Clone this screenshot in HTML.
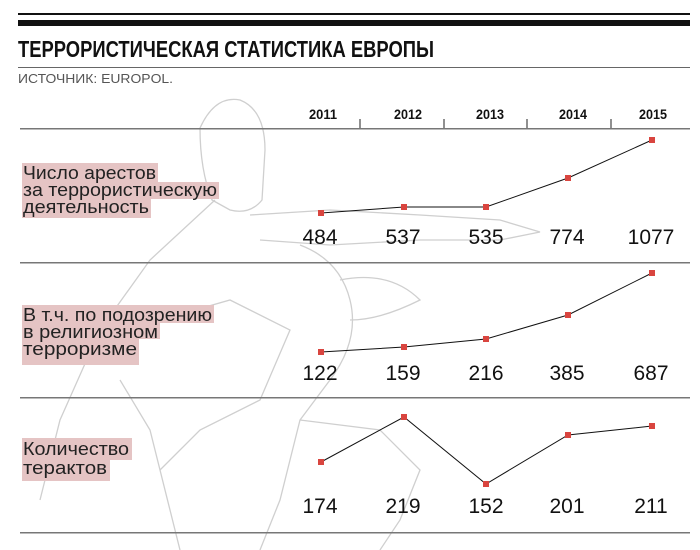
<!DOCTYPE html>
<html><head><meta charset="utf-8"><style>
body{margin:0;background:#fff}
svg{display:block}
.lab{font-family:"Liberation Sans","DejaVu Sans",sans-serif;font-size:18px;fill:#222}
.val{font-family:"Liberation Sans","DejaVu Sans",sans-serif;font-size:21px;fill:#111;text-anchor:middle}
.yr{font-family:"Liberation Sans Narrow","Liberation Sans",sans-serif;font-size:14px;font-weight:bold;fill:#111;text-anchor:middle}
</style></head><body>
<svg width="700" height="550" xmlns="http://www.w3.org/2000/svg">
<g fill="none" stroke="#cfcfcf" stroke-width="1.3">
<path d="M200 128 Q215 95 240 100 Q265 110 265 150 L262 200 Q250 215 230 210 L212 200 Q200 170 200 128 Z"/>
<path d="M215 200 L150 260 L100 330 L60 420 L40 500"/>
<path d="M250 215 L330 210 L420 215 L500 220 L540 232 L500 240 L420 240 L330 245 L260 240"/>
<path d="M300 245 Q340 260 350 300 Q360 340 330 380 L300 420 L280 500 L260 550"/>
<path d="M160 320 L230 300 L290 330 L260 400 L200 430 L160 470"/>
<path d="M120 380 L150 430 L170 510 L180 550"/>
<path d="M300 420 L380 430 L420 470 L400 520 L380 550"/>
<path d="M340 280 Q390 270 420 300 Q380 320 350 320"/>
</g>
<rect x="18" y="13" width="672" height="2" fill="#111"/>
<rect x="18" y="20" width="672" height="6" fill="#111"/>
<text x="18" y="57" font-family="Liberation Sans Narrow,Liberation Sans,sans-serif" font-weight="bold" font-size="23" fill="#111" textLength="416" lengthAdjust="spacingAndGlyphs">ТЕРРОРИСТИЧЕСКАЯ СТАТИСТИКА ЕВРОПЫ</text>
<rect x="18" y="67" width="672" height="1" fill="#666"/>
<text x="18" y="83" font-family="Liberation Sans,sans-serif" font-size="13" fill="#555" textLength="155" lengthAdjust="spacingAndGlyphs">ИСТОЧНИК: EUROPOL.</text>
<g class="yr">
<text x="323" y="119" textLength="28" lengthAdjust="spacingAndGlyphs">2011</text>
<text x="408" y="119" textLength="28" lengthAdjust="spacingAndGlyphs">2012</text>
<text x="490" y="119" textLength="28" lengthAdjust="spacingAndGlyphs">2013</text>
<text x="573" y="119" textLength="28" lengthAdjust="spacingAndGlyphs">2014</text>
<text x="653" y="119" textLength="28" lengthAdjust="spacingAndGlyphs">2015</text>
</g>
<g stroke="#222" stroke-width="1">
<line x1="360" y1="119" x2="360" y2="128"/><line x1="444" y1="119" x2="444" y2="128"/>
<line x1="527" y1="119" x2="527" y2="128"/><line x1="611" y1="119" x2="611" y2="128"/>
</g>
<g fill="#777">
<rect x="20" y="128" width="670" height="1.5"/>
<rect x="20" y="262" width="670" height="1.5"/>
<rect x="20" y="397" width="670" height="1.5"/>
<rect x="20" y="532" width="670" height="1.5"/>
</g>
<g fill="#e5c4c4">
<rect x="22" y="163" width="136" height="19"/><rect x="22" y="182" width="197" height="17"/><rect x="22" y="199" width="129" height="19"/>
<rect x="22" y="305" width="192" height="18"/><rect x="22" y="323" width="138" height="16"/><rect x="22" y="339" width="117" height="26"/>
<rect x="22" y="438" width="110" height="22"/><rect x="22" y="460" width="88" height="21"/>
</g>
<g class="lab">
<text x="23" y="179" textLength="133" lengthAdjust="spacingAndGlyphs">Число арестов</text>
<text x="23" y="196" textLength="194" lengthAdjust="spacingAndGlyphs">за террористическую</text>
<text x="23" y="213" textLength="126" lengthAdjust="spacingAndGlyphs">деятельность</text>
<text x="23" y="321" textLength="189" lengthAdjust="spacingAndGlyphs">В т.ч. по подозрению</text>
<text x="23" y="338" textLength="135" lengthAdjust="spacingAndGlyphs">в религиозном</text>
<text x="23" y="355" textLength="114" lengthAdjust="spacingAndGlyphs">терроризме</text>
<text x="23" y="455" textLength="106" lengthAdjust="spacingAndGlyphs">Количество</text>
<text x="23" y="474" textLength="84" lengthAdjust="spacingAndGlyphs">терактов</text>
</g>
<g fill="none" stroke="#111" stroke-width="1">
<polyline points="321,213 404,207 486,207 568,178 652,140"/>
<polyline points="321,352 404,347 486,339 568,315 652,273"/>
<polyline points="321,462 404,417 486,484 568,435 652,426"/>
</g>
<g fill="#d9453f">
<rect x="318" y="210" width="6" height="6"/><rect x="401" y="204" width="6" height="6"/><rect x="483" y="204" width="6" height="6"/><rect x="565" y="175" width="6" height="6"/><rect x="649" y="137" width="6" height="6"/>
<rect x="318" y="349" width="6" height="6"/><rect x="401" y="344" width="6" height="6"/><rect x="483" y="336" width="6" height="6"/><rect x="565" y="312" width="6" height="6"/><rect x="649" y="270" width="6" height="6"/>
<rect x="318" y="459" width="6" height="6"/><rect x="401" y="414" width="6" height="6"/><rect x="483" y="481" width="6" height="6"/><rect x="565" y="432" width="6" height="6"/><rect x="649" y="423" width="6" height="6"/>
</g>
<g class="val">
<text x="320" y="244">484</text><text x="403" y="244">537</text><text x="486" y="244">535</text><text x="567" y="244">774</text><text x="651" y="244">1077</text>
<text x="320" y="380">122</text><text x="403" y="380">159</text><text x="486" y="380">216</text><text x="567" y="380">385</text><text x="651" y="380">687</text>
<text x="320" y="513">174</text><text x="403" y="513">219</text><text x="486" y="513">152</text><text x="567" y="513">201</text><text x="651" y="513">211</text>
</g>
</svg>
</body></html>
